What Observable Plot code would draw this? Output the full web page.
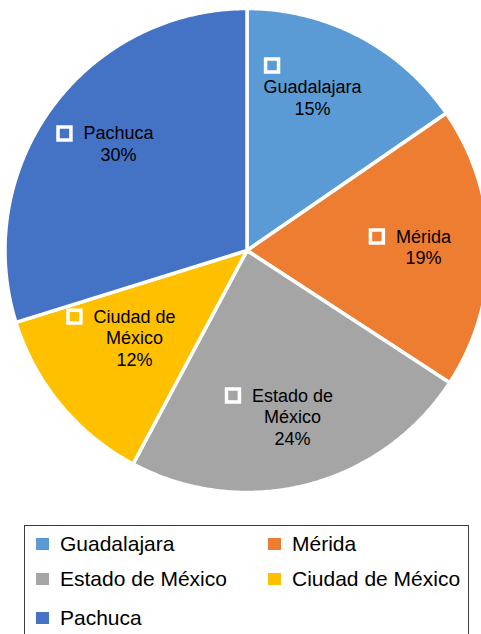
<!DOCTYPE html>
<html><head><meta charset="utf-8">
<script src="https://cdn.jsdelivr.net/npm/d3@7"></script>
<script src="https://cdn.jsdelivr.net/npm/@observablehq/plot@0.6"></script>
<style>
html,body{margin:0;padding:0;background:#fff;overflow:hidden;width:481px;height:634px;}
#wrap{position:relative;width:481px;height:634px;font-family:"Liberation Sans",Arial,sans-serif;}
#chart{position:absolute;left:0;top:0;}
#legend{position:absolute;left:24px;top:525px;width:445px;height:140px;border:1px solid #3c3c3c;box-sizing:border-box;}
.item{position:absolute;display:flex;align-items:center;height:12px;font-size:21px;line-height:12px;color:#000;white-space:nowrap;}
.sw{width:13px;height:12px;margin-right:11px;flex:none;}
</style></head><body><div id="wrap"><div id="chart"></div><div id="legend"></div></div>
<script>
// ---- data ----
const cities = ["Guadalajara", "Mérida", "Estado de México", "Ciudad de México", "Pachuca"];
const shares = [15.4, 18.8, 23.6, 12.4, 29.8];
const colors = ["#5B9BD5", "#ED7D31", "#A5A5A5", "#FFC000", "#4472C4"];
const labelLines = [["Guadalajara"], ["Mérida"], ["Estado de", "México"], ["Ciudad de", "México"], ["Pachuca"]];

// ---- layout (label anchors in pie units: text centre x, first baseline y) ----
const labelAnchor = [[0.271, 0.649], [0.729, 0.033], [0.188, -0.624], [-0.465, -0.298], [-0.531, 0.459]];
const keyOwnLine = [true, false, false, false, false];
const legendCol = [11, 243, 11, 243, 11];
const legendRow = [12, 12, 47, 47, 86];

const PX = 242;              // pixels per pie unit
const FONT = 18;
const lineH = 21.7 / PX;

// slices
const total = d3.sum(shares);
const slices = [];
let acc = 0;
cities.forEach((c, i) => {
  const a0 = acc / total * 2 * Math.PI;
  acc += shares[i];
  const a1 = acc / total * 2 * Math.PI;
  slices.push({city: c, x: 0, y: 0});
  const n = Math.max(2, Math.ceil((a1 - a0) / (Math.PI / 360)));
  for (let k = 0; k <= n; ++k) {
    const a = a0 + (a1 - a0) * k / n;
    slices.push({city: c, x: Math.sin(a), y: Math.cos(a)});
  }
});

// label text rows
const ctx = document.createElement("canvas").getContext("2d");
ctx.font = `${FONT}px "Liberation Sans"`;
const textRows = [];
const keys = [];
cities.forEach((c, i) => {
  const [ax, ay] = labelAnchor[i];
  const lines = labelLines[i].concat([Math.round(shares[i]) + "%"]);
  lines.forEach((t, j) => textRows.push({city: c, text: t, x: ax, y: ay - j * lineH}));
  const w0 = ctx.measureText(lines[0]).width;
  if (keyOwnLine[i]) keys.push({city: c, x: ax + (-w0 / 2 + 8.5) / PX, y: ay + 28 / PX});
  else keys.push({city: c, x: ax - (w0 / 2 + 19) / PX, y: ay + 6 / PX});
});

const plot = Plot.plot({
  width: 481, height: 525, margin: 0,
  style: {fontFamily: '"Liberation Sans", Arial, sans-serif', fontSize: FONT + "px", background: "transparent", overflow: "visible"},
  x: {domain: [-1, 1], range: [4.5, 4.5 + 2 * PX], axis: null},
  y: {domain: [-1, 1], range: [8 + 2 * PX, 8], axis: null},
  color: {domain: cities, range: colors},
  marks: [
    Plot.line(slices, {x: "x", y: "y", z: "city", fill: "city", stroke: "white", strokeWidth: 3.5, strokeLinejoin: "round", curve: "linear-closed"}),
    Plot.dot(keys, {x: "x", y: "y", fill: "city", stroke: "white", strokeWidth: 3.5, symbol: "square", r: 7.3}),
    Plot.text(textRows, {x: "x", y: "y", text: "text", textAnchor: "middle", lineAnchor: "bottom", fill: "#000", fontSize: FONT})
  ]
});
document.getElementById("chart").appendChild(plot);

// legend
const legend = document.getElementById("legend");
cities.forEach((c, i) => {
  const it = document.createElement("div");
  it.className = "item";
  it.style.left = legendCol[i] + "px";
  it.style.top = legendRow[i] + "px";
  const sw = document.createElement("span");
  sw.className = "sw"; sw.style.background = colors[i];
  const tx = document.createElement("span");
  tx.textContent = c;
  it.appendChild(sw); it.appendChild(tx);
  legend.appendChild(it);
});
</script></body></html>
